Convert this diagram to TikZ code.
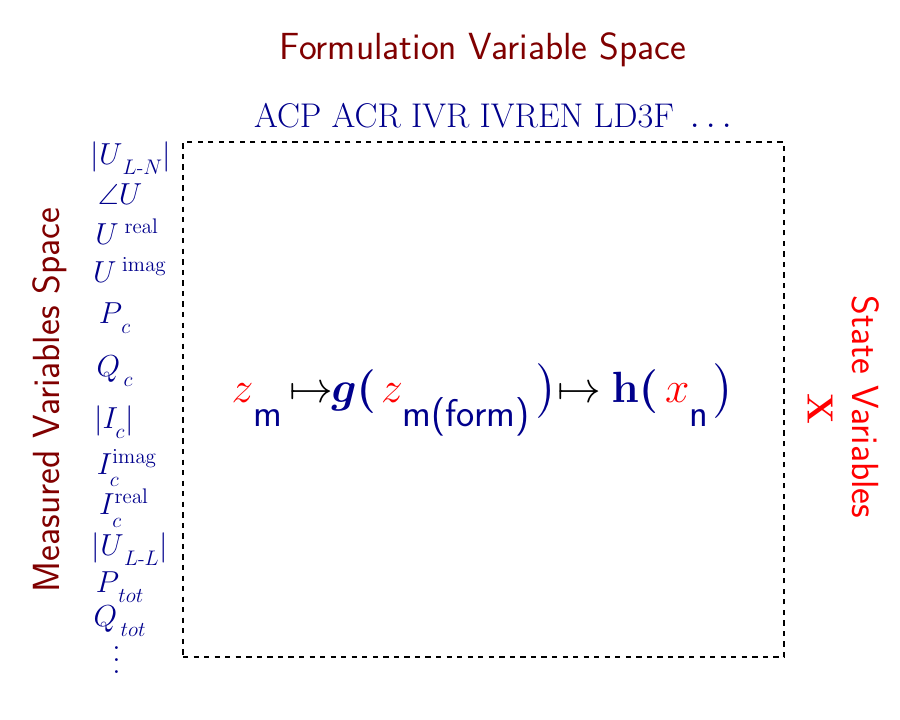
\documentclass[tikz,border=0pt]{standalone}
\usepackage{amsmath}
\usepackage{amssymb}
\usepackage{bm}
\usepackage{xcolor}
\usepackage{tikz}
\definecolor{navyblue}{RGB}{0,0,140}
\definecolor{darkred}{RGB}{128,0,0}
% lowered subscripts as in the original figure
\newcommand{\dsub}[1]{\lower3pt\hbox{$\scriptstyle #1$}}
\newcommand{\lowsub}[1]{\raisebox{-14pt}{\fontsize{22}{26}\selectfont\sffamily\color{navyblue}#1}}
\newcommand{\tallvdots}{\vbox{\baselineskip7pt\lineskiplimit0pt\hbox{.}\hbox{.}\hbox{.}}}

\begin{document}
\begin{tikzpicture}[
			x=0.02cm, y=-0.02cm,
			heading/.style={text=darkred,font=\fontsize{21.5}{26}\selectfont\sffamily}, % space titles
			statelabel/.style={text=red,font=\fontsize{21.5}{26}\selectfont\sffamily}, % state side
			meas/.style={text=navyblue,font=\fontsize{16.5}{20}\selectfont,inner sep=0pt}, % measured quantities
		]
		\useasboundingbox (0,0) rectangle (900,720);

		% --- the formulation space as a dashed box
		\node[draw,dashed,line width=0.6pt,minimum width=601*0.02cm,minimum height=515*0.02cm,inner sep=0pt]
		(space) at (483.5,399.5) {};

		% --- titles round the box
		\node[heading] (formtitle) at (483,50) {Formulation Variable Space};
		\node[text=navyblue,font=\fontsize{19.5}{24}\selectfont] (forms) at (493,116)
		{ACP ACR IVR IVREN LD3F \,$\ldots$};
		\node[heading,rotate=90] (meastitle) at (50,400) {Measured Variables Space};
		\node[statelabel,rotate=-90] (statetitle) at (866,407) {State Variables};
		\node[text=red,font=\fontsize{20}{24}\selectfont,rotate=-90] (statevec) at (820,409) {$\mathbf{X}$};

		% --- measured quantities down the left side
		\node[meas] (uln) at (131,158) {$|U_{\,\dsub{L\text{-}N}}|$};
		\node[meas] (uang) at (120,194) {$\angle U$};
		\node[meas] (ure) at (127,232) {$U^{\;\mathrm{real}}$};
		\node[meas] (uim) at (130,270) {$U^{\;\mathrm{imag}}$};
		\node[meas] (pc) at (115,318) {$P_{\,\dsub{c}}$};
		\node[meas] (qc) at (115,371) {$Q_{\,\dsub{c}}$};
		\node[meas] (ic) at (114,422) {$|I_{\dsub{c}}|$};
		\node[meas] (icim) at (127,468) {$I_{\dsub{c}}^{\mathrm{imag}}$};
		\node[meas] (icre) at (124,508) {$I_{\dsub{c}}^{\mathrm{real}}$};
		\node[meas] (ull) at (130,549) {$|U_{\,\dsub{L\text{-}L}}|$};
		\node[meas] (ptot) at (120,587) {$P_{\,\dsub{tot}}$};
		\node[meas] (qtot) at (120,621) {$Q_{\,\dsub{tot}}$};
		\node[meas,font=\fontsize{20}{24}\selectfont] (more) at (117,660) {\tallvdots};

		% --- the measurement function in the middle
		\node[font=\fontsize{26}{30}\selectfont,inner sep=0pt] (mapping) at (483,400)
		{{\color{red}$z$}\lowsub{m}\hspace{4pt}$\mapsto$\hspace{-1pt}{\color{navyblue}$\bm{g(}$}\hspace{3pt}{\color{red}$z$}\lowsub{m(form)}\hspace{4pt}{\color{navyblue}$\bigr)$}$\mapsto$\hspace{6pt}{\color{navyblue}$\bm{\mathbf{h}(}$}\hspace{4pt}{\color{red}$x$}\lowsub{n}\hspace{3pt}{\color{navyblue}$\bigr)$}};
	\end{tikzpicture}
\end{document}
